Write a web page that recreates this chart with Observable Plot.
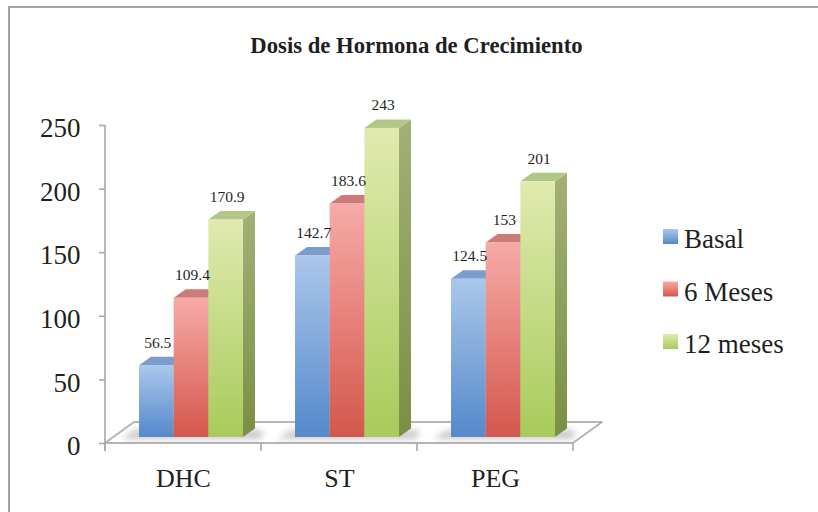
<!DOCTYPE html>
<html><head><meta charset="utf-8">
<script src="https://cdn.jsdelivr.net/npm/d3@7"></script>
<script src="https://cdn.jsdelivr.net/npm/@observablehq/plot@0.6"></script>
<style>
html,body{margin:0;padding:0;background:#fff;}
#chart{position:relative;width:818px;height:512px;}
</style></head><body>
<svg width="0" height="0" style="position:absolute">
<defs>
<linearGradient id="front0" x1="0" y1="0" x2="0" y2="1"><stop offset="0" stop-color="#abc7eb"/><stop offset="1" stop-color="#5489cb"/></linearGradient>
<linearGradient id="front1" x1="0" y1="0" x2="0" y2="1"><stop offset="0" stop-color="#f7aaa7"/><stop offset="1" stop-color="#d4574c"/></linearGradient>
<linearGradient id="front2" x1="0" y1="0" x2="0" y2="1"><stop offset="0" stop-color="#e0eaaf"/><stop offset="1" stop-color="#a8cb5b"/></linearGradient>
<linearGradient id="side0" x1="0" y1="0" x2="0" y2="1"><stop offset="0" stop-color="#7b9bc6"/><stop offset="1" stop-color="#4a76ad"/></linearGradient>
<linearGradient id="side1" x1="0" y1="0" x2="0" y2="1"><stop offset="0" stop-color="#c47c79"/><stop offset="1" stop-color="#aa4a42"/></linearGradient>
<linearGradient id="side2" x1="0" y1="0" x2="0" y2="1"><stop offset="0" stop-color="#a3b076"/><stop offset="1" stop-color="#7a8f44"/></linearGradient>
<filter id="blur" x="-50%" y="-50%" width="200%" height="200%"><feGaussianBlur stdDeviation="3"/></filter>
</defs></svg>
<div id="chart"></div>
<script>
const categories = ["DHC", "ST", "PEG"];
const series = ["Basal", "6 Meses", "12 meses"];
const basal = [56.5, 142.7, 124.5];
const meses6 = [109.4, 183.6, 153];
const meses12 = [170.9, 243, 201];
const yTicks = [0, 50, 100, 150, 200, 250];
const title = "Dosis de Hormona de Crecimiento";

const valuesBySeries = [basal, meses6, meses12];
const data = series.flatMap((s, i) => categories.map((c, j) => ({cat: c, series: s, si: i, value: valuesBySeries[i][j]})));

const capFill = ["#7c9dcb", "#c97c7b", "#b3c68a"];
const DX = 12, DY = 8.5;      // bar depth
const FDX = 29, FDY = 21;     // floor depth
const BW = 34.67, OFF = 34, BAND = 156;

function bandwidthOf(s) { return typeof s.bandwidth === "function" ? s.bandwidth() : s.bandwidth; }

function bar3d(i) {
  return function(index, scales, values, dims, ctx, next) {
    const g = next(index, scales, values, dims, ctx);
    const ns = "http://www.w3.org/2000/svg";
    g.querySelectorAll("rect").forEach(r => {
      const x = +r.getAttribute("x"), y = +r.getAttribute("y"), w = +r.getAttribute("width"), h = +r.getAttribute("height");
      const side = document.createElementNS(ns, "polygon");
      side.setAttribute("points", [[x + w, y], [x + w + DX, y - DY], [x + w + DX, y + h - DY], [x + w, y + h]].join(" "));
      side.setAttribute("fill", `url(#side${i})`);
      const cap = document.createElementNS(ns, "polygon");
      cap.setAttribute("points", [[x, y], [x + DX, y - DY], [x + w + DX, y - DY], [x + w, y]].join(" "));
      cap.setAttribute("fill", capFill[i]);
      r.parentNode.insertBefore(side, r);
      r.parentNode.insertBefore(cap, r);
    });
    return g;
  };
}

function decor(index, scales) {
  const bw = bandwidthOf(scales.x);
  const L = scales.x(categories[0]);
  const R = scales.x(categories[categories.length - 1]) + bw;
  const y0 = scales.y(0), yTop = scales.y(d3.max(yTicks));
  const g = d3.create("svg:g");
  g.append("polygon")
    .attr("points", [[L, y0], [R, y0], [R + FDX, y0 - FDY], [L + FDX, y0 - FDY]].join(" "))
    .attr("fill", "#fff").attr("stroke", "#b4b4b4").attr("stroke-width", 2).attr("stroke-linejoin", "round");
  for (const c of categories) {
    const gx = scales.x(c) + OFF;
    g.append("polygon")
      .attr("points", [[gx - 18, y0 - 4], [gx + 3 * BW + DX + 6, y0 - 4], [gx + 3 * BW + DX + 8, y0 - 13], [gx - 4, y0 - 13]].join(" "))
      .attr("fill", "#8a8a8a").attr("opacity", 0.45).attr("filter", "url(#blur)");
  }
  g.append("line").attr("x1", L).attr("x2", L).attr("y1", yTop).attr("y2", y0 + 8)
    .attr("stroke", "#a8a8a8").attr("stroke-width", 1.6);
  const bounds = [L, ...categories.map(c => scales.x(c) + bw)];
  for (const b of bounds) {
    g.append("line").attr("x1", b).attr("x2", b).attr("y1", y0).attr("y2", y0 + 8)
      .attr("stroke", "#a8a8a8").attr("stroke-width", 1.6);
  }
  return g.node();
}

const marks = [
  decor,
  Plot.axisY({ticks: yTicks, tickSize: 6, tickFormat: () => "", stroke: "#a8a8a8", strokeWidth: 1.6, label: null}),
  Plot.axisY({ticks: yTicks, tickSize: 0, tickPadding: 25, fontSize: 27, dy: 3, fill: "#1f1f1f", label: null}),
  Plot.axisX({tickSize: 0, tickPadding: 25.5, fontSize: 26, fill: "#1f1f1f", label: null})
];
series.forEach((s, i) => {
  const d = data.filter(r => r.series === s);
  marks.push(Plot.barY(d, {
    x: "cat", y: "value", fill: `url(#front${i})`,
    insetLeft: OFF + i * BW, insetRight: BAND - OFF - (i + 1) * BW,
    dy: -6, render: bar3d(i)
  }));
});
series.forEach((s, i) => {
  const d = data.filter(r => r.series === s);
  marks.push(Plot.text(d, {
    x: "cat", y: "value", text: r => String(r.value),
    dx: -26.7 + i * BW + 1, dy: -24, lineAnchor: "bottom",
    fontSize: 15.5, fill: "#1f1f1f"
  }));
});

const chart = Plot.plot({
  width: 818, height: 512,
  marginLeft: 105, marginRight: 245, marginTop: 125, marginBottom: 69,
  x: {domain: categories, padding: 0, label: null},
  y: {domain: [0, 250], label: null},
  style: {fontFamily: "'Liberation Serif', serif", color: "#1f1f1f", background: "#fff", overflow: "visible"},
  marks
});

const svg = d3.select(chart);
svg.append("line").attr("x1", 9).attr("x2", 9).attr("y1", 6).attr("y2", 512).attr("stroke", "#a3a3a3").attr("stroke-width", 2);
svg.append("line").attr("x1", 8).attr("x2", 818).attr("y1", 7).attr("y2", 7).attr("stroke", "#a3a3a3").attr("stroke-width", 2);
svg.append("text").attr("x", 416.5).attr("y", 53).attr("text-anchor", "middle")
  .attr("font-family", "'Liberation Serif', serif").attr("font-weight", "bold").attr("font-size", 22.7)
  .attr("fill", "#1f1f1f").text(title);
const lg = svg.append("g").attr("text-anchor", "start");
series.forEach((s, i) => {
  lg.append("rect").attr("x", 663).attr("y", 229 + i * 52.5).attr("width", 15).attr("height", 15).attr("fill", `url(#front${i})`);
  lg.append("text").attr("x", 684).attr("y", 248 + i * 52.5).attr("text-anchor", "start")
    .attr("font-size", 27).attr("fill", "#1f1f1f").text(s);
});

document.getElementById("chart").appendChild(chart);
</script>
</body></html>
